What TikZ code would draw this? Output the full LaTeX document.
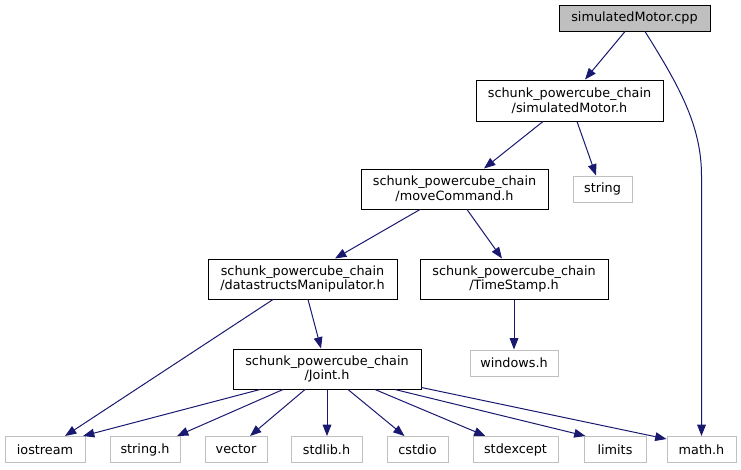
\documentclass[tikz,border=0pt]{standalone}
\usepackage{fontspec}
\setmainfont{DejaVu Sans}
\usetikzlibrary{arrows.meta,calc}
\definecolor{edgeblue}{HTML}{191970}
\definecolor{boxgray}{HTML}{BFBFBF}
\begin{document}
\begin{tikzpicture}[x=0.75pt,y=-0.75pt,
  every node/.style={font=\fontsize{9.6pt}{11pt}\selectfont, inner sep=0pt, align=center},
  filebox/.style={draw=black, fill=white, line width=0.75pt},
  sysbox/.style={draw=boxgray, fill=white, line width=0.75pt},
  rootbox/.style={draw=black, fill=boxgray, line width=0.75pt},
  dep/.style={draw=edgeblue, line width=0.75pt, -{Triangle[length=8.5pt,width=6.5pt,fill=edgeblue]}}]
\useasboundingbox (0,0) rectangle (741,469);
% nodes
\node[rootbox, minimum width=151*0.75pt, minimum height=26*0.75pt] (cpp) at (634.5,18) {simulatedMotor.cpp};
\node[filebox, minimum width=187*0.75pt, minimum height=41*0.75pt] (smh) at (569.5,100.5) {schunk\_powercube\_chain\\/simulatedMotor.h};
\node[sysbox, minimum width=59*0.75pt, minimum height=26*0.75pt] (string) at (602.5,189) {string};
\node[filebox, minimum width=187*0.75pt, minimum height=40*0.75pt] (mc) at (454.5,189) {schunk\_powercube\_chain\\/moveCommand.h};
\node[filebox, minimum width=189*0.75pt, minimum height=40*0.75pt] (ds) at (302.5,279) {schunk\_powercube\_chain\\/datastructsManipulator.h};
\node[filebox, minimum width=188*0.75pt, minimum height=40*0.75pt] (ts) at (514,279) {schunk\_powercube\_chain\\/TimeStamp.h};
\node[sysbox, minimum width=88*0.75pt, minimum height=26*0.75pt] (win) at (514,363) {windows.h};
\node[filebox, minimum width=188*0.75pt, minimum height=40*0.75pt] (joint) at (327,369) {schunk\_powercube\_chain\\/Joint.h};
\node[sysbox, minimum width=80*0.75pt, minimum height=26*0.75pt] (iostream) at (45,449.5) {iostream};
\node[sysbox, minimum width=70*0.75pt, minimum height=26*0.75pt] (stringh) at (145,449.5) {string.h};
\node[sysbox, minimum width=62*0.75pt, minimum height=26*0.75pt] (vector) at (236,449.5) {vector};
\node[sysbox, minimum width=71*0.75pt, minimum height=26*0.75pt] (stdlib) at (326.5,449.5) {stdlib.h};
\node[sysbox, minimum width=61*0.75pt, minimum height=26*0.75pt] (cstdio) at (417.5,449.5) {cstdio};
\node[sysbox, minimum width=85*0.75pt, minimum height=26*0.75pt] (stdexcept) at (515.5,449.5) {stdexcept};
\node[sysbox, minimum width=62*0.75pt, minimum height=26*0.75pt] (limits) at (615,449.5) {limits};
\node[sysbox, minimum width=69*0.75pt, minimum height=26*0.75pt] (math) at (701.5,449.5) {math.h};
% edges
\draw[dep] ($(cpp.south)+(-9.5,0)$) -- ($(smh.north)+(15.5,0)$);
\draw[dep] ($(cpp.south)+(10.5,0)$) .. controls ($(cpp.south)+(45,55)$) and ($(math.north)+(0,-310)$) .. ($(math.north)+(0,-260)$) -- (math.north);
\draw[dep] ($(smh.south)+(-26.5,0)$) -- ($(mc.north)+(29.5,0)$);
\draw[dep] ($(smh.south)+(7.5,0)$) -- ($(string.north)+(-6.5,0)$);
\draw[dep] ($(mc.south)+(-34.5,0)$) -- ($(ds.north)+(32.5,0)$);
\draw[dep] ($(mc.south)+(12.5,0)$) -- ($(ts.north)+(-12,0)$);
\draw[dep] ($(ds.south)+(5.5,0)$) -- ($(joint.north)+(-6,0)$);
\draw[dep] ($(ds.south)+(-29.5,0)$) -- ($(iostream.north)+(20,0)$);
\draw[dep] (ts.south) -- (win.north);
\draw[dep] ($(joint.south)+(-67,0)$) -- ($(iostream.north)+(38,0)$);
\draw[dep] ($(joint.south)+(-44,0)$) -- ($(stringh.north)+(32,0)$);
\draw[dep] ($(joint.south)+(-22,0)$) -- ($(vector.north)+(14,0)$);
\draw[dep] (joint.south) -- (joint.south |- stdlib.north);
\draw[dep] ($(joint.south)+(21,0)$) -- ($(cstdio.north)+(-13,0)$);
\draw[dep] ($(joint.south)+(48,0)$) -- ($(stdexcept.north)+(-30,0)$);
\draw[dep] ($(joint.south)+(68,0)$) -- ($(limits.north west)+(2,0)$);
\draw[dep] ($(joint.south east)+(0,-2)$) -- ($(math.north west)+(0,3)$);
\end{tikzpicture}
\end{document}
